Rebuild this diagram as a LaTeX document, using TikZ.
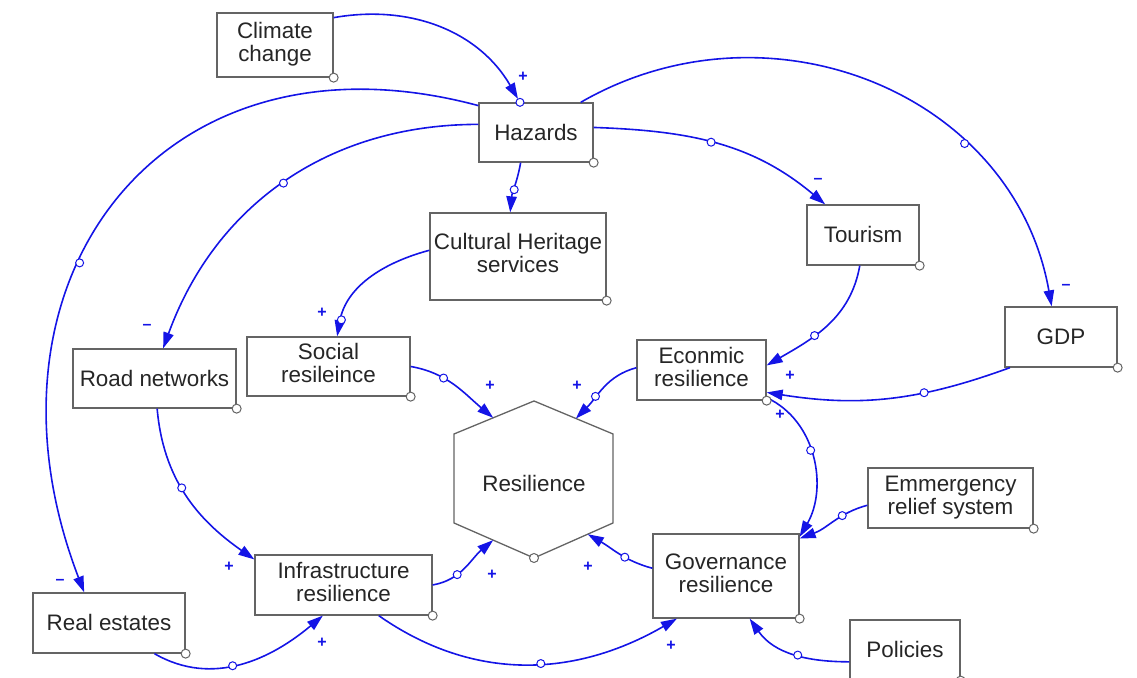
\documentclass[tikz,border=0pt]{standalone}
\usepackage{fontspec}
\setmainfont{Liberation Sans}
\usetikzlibrary{arrows.meta}
\usetikzlibrary{calc}
\definecolor{linkblue}{RGB}{20,20,230}
\definecolor{boxgray}{RGB}{100,100,100}

\begin{document}
\begin{tikzpicture}[x=0.5pt,y=0.5pt,
    txt/.style={font=\fontsize{11.2}{11.5}\selectfont, text=black!85},
    var/.style={txt, rectangle, draw=boxgray, line width=0.65pt, fill=white, inner sep=0pt},
    lnk/.style={draw=linkblue, line width=0.8pt, -{Triangle[length=8pt,width=5.2pt]}},
    hnd/.style={circle, draw=linkblue, fill=white, line width=0.5pt, inner sep=0pt, minimum size=4pt},
    crn/.style={circle, draw=boxgray, fill=white, line width=0.5pt, inner sep=0pt, minimum size=4.5pt},
    sgn/.style={text=linkblue, font=\fontsize{8}{8}\selectfont\bfseries, inner sep=0pt}]

    \useasboundingbox (0,0) rectangle (1137,678);

    % variables
    \node (clim) [var, minimum width=58pt, minimum height=32pt] at (275,633) {\begin{tabular}{@{}c@{}}
         Climate\\ change
    \end{tabular}};
    \node (haz) [var, minimum width=57pt, minimum height=29.5pt] at (536,545.5) {Hazards};
    \node (cult) [var, minimum width=88pt, minimum height=43.5pt] at (518,421.5) {\begin{tabular}{@{}c@{}}
         Cultural Heritage\\ services
    \end{tabular}};
    \node (tour) [var, minimum width=56pt, minimum height=30pt] at (863,443) {Tourism};
    \node (gdp) [var, minimum width=56pt, minimum height=30pt] at (1061,341) {GDP};
    \node (road) [var, minimum width=81.5pt, minimum height=29.5pt] at (154.5,299.5) {Road networks};
    \node (soc) [var, minimum width=81.5pt, minimum height=29.5pt] at (328.5,311.5) {\begin{tabular}{@{}c@{}}
         Social\\ resileince
    \end{tabular}};
    \node (eco) [var, minimum width=64.5pt, minimum height=30pt] at (701.5,308) {\begin{tabular}{@{}c@{}}
         Econmic\\ resilience
    \end{tabular}};
    \node (emer) [var, minimum width=82.5pt, minimum height=30pt] at (950.5,180) {\begin{tabular}{@{}c@{}}
         Emmergency\\ relief system
    \end{tabular}};
    \node (infra) [var, minimum width=88.5pt, minimum height=30pt] at (343.5,93) {\begin{tabular}{@{}c@{}}
         Infrastructure\\ resilience
    \end{tabular}};
    \node (gov) [var, minimum width=73pt, minimum height=42pt] at (726,102) {\begin{tabular}{@{}c@{}}
         Governance\\ resilience
    \end{tabular}};
    \node (real) [var, minimum width=76pt, minimum height=30pt] at (109,55) {Real estates};
    \node (pol) [var, minimum width=55pt, minimum height=30pt] at (905,28) {Policies};

    % resilience hexagon
    \coordinate (htop) at (534,277);
    \coordinate (hur) at (613,244);
    \coordinate (hlr) at (613,155);
    \coordinate (hbot) at (534,120);
    \coordinate (hll) at (454,155);
    \coordinate (hul) at (454,244);
    \draw [draw=boxgray, line width=0.65pt, fill=white] (htop) -- (hur) -- (hlr) -- (hbot) -- (hll) -- (hul) -- cycle;
    \node (res) [txt] at (534,194) {Resilience};
    \coordinate (resnw) at ($(hul)!0.49!(htop)$);
    \coordinate (resne) at ($(htop)!0.53!(hur)$);
    \coordinate (ressw) at ($(hll)!0.49!(hbot)$);
    \coordinate (resse) at ($(hbot)!0.68!(hlr)$);

    % links
    \draw [lnk, shorten >=2pt] (clim.25) to[out=10,in=120] node[hnd,pos=1] (h1) {} (haz.118);
    \draw [lnk] (haz.172) to[out=180,in=70] node[hnd,pos=0.5] (h2) {} (road.74);
    \draw [lnk] (haz.155) to[out=165,in=111,looseness=1.35] node[hnd,pos=0.6] (h3) {} (real.129);
    \draw [lnk] (haz.243) to[out=-100,in=85] node[hnd,pos=0.55] (h4) {} (cult.100);
    \draw [lnk] (haz.5) to[out=-2,in=140] node[hnd,pos=0.47] (h5) {} (tour.141);
    \draw [lnk] (haz.34) to[out=30,in=100,looseness=1.08] node[hnd,pos=0.69] (h6) {} (gdp.107);
    \draw [lnk] (cult.176) to[out=195,in=80] node[hnd,pos=0.88] (h7) {} (soc.74);
    \draw [lnk] (soc.east) to[out=-10,in=140] node[hnd,pos=0.35] (h8) {} (resnw);
    \draw [lnk] (tour.264) to[out=-100,in=30] node[hnd,pos=0.62] (h9) {} (eco.4);
    \draw [lnk] (eco.178) to[out=195,in=45] node[hnd,pos=0.65] (h10) {} (resne);
    \draw [lnk] (gdp.211) to[out=200,in=-9] node[hnd,pos=0.35] (h11) {} (eco.-19);
    \draw [lnk] (eco.-23) to[out=-25,in=60] node[hnd,pos=0.45] (h12) {} (gov.28);
    \draw [lnk] (emer.185) to[out=195,in=20] node[hnd,pos=0.35] (h13) {} (gov.27);
    \draw [lnk] (road.275) to[out=-85,in=145] node[hnd,pos=0.45] (h14) {} (infra.164);
    \draw [lnk] (real.-34) to[out=-30,in=220] node[hnd,pos=0.45] (h15) {} (infra.236);
    \draw [lnk] (infra.east) to[out=10,in=220] node[hnd,pos=0.35] (h16) {} (ressw);
    \draw [lnk] (infra.-41) to[out=-35,in=210] node[hnd,pos=0.55] (h17) {} (gov.221);
    \draw [lnk] (gov.174) to[out=165,in=-30] node[hnd,pos=0.4] (h18) {} (resse);
    \draw [lnk] (pol.192) to[out=180,in=-55] node[hnd,pos=0.45] (h19) {} (gov.-61);

    % corner handles
    \node (climc) [crn] at (clim.south east) {};
    \node (hazc) [crn] at (haz.south east) {};
    \node (cultc) [crn] at (cult.south east) {};
    \node (tourc) [crn] at (tour.south east) {};
    \node (gdpc) [crn] at (gdp.south east) {};
    \node (roadc) [crn] at (road.south east) {};
    \node (socc) [crn] at (soc.south east) {};
    \node (ecoc) [crn] at (eco.south east) {};
    \node (emerc) [crn] at (emer.south east) {};
    \node (infrac) [crn] at (infra.south east) {};
    \node (govc) [crn] at (gov.south east) {};
    \node (realc) [crn] at (real.south east) {};
    \node (polc) [crn] at (pol.south east) {};
    \node (resc) [crn] at (hbot) {};

    % polarities
    \node (s1) [sgn] at (523,601) {+};
    \node (s2) [sgn] at (147,351) {\textendash};
    \node (s3) [sgn] at (60,96) {\textendash};
    \node (s4) [sgn] at (818,497) {\textendash};
    \node (s5) [sgn] at (1066,391) {\textendash};
    \node (s6) [sgn] at (322,365) {+};
    \node (s7) [sgn] at (490,292) {+};
    \node (s8) [sgn] at (577,292) {+};
    \node (s9) [sgn] at (790,302) {+};
    \node (s10) [sgn] at (780,263) {+};
    \node (s11) [sgn] at (229,111) {+};
    \node (s12) [sgn] at (322,35) {+};
    \node (s13) [sgn] at (492,103) {+};
    \node (s14) [sgn] at (588,111) {+};
    \node (s15) [sgn] at (671,32) {+};
\end{tikzpicture}
\end{document}
